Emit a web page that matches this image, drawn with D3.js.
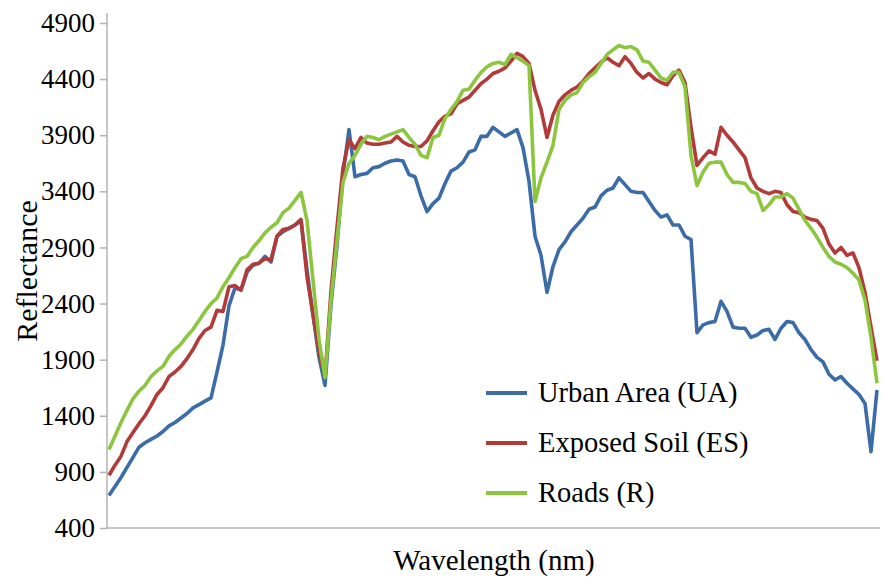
<!DOCTYPE html>
<html>
<head>
<meta charset="utf-8">
<script src="https://cdn.jsdelivr.net/npm/d3@7/dist/d3.min.js"></script>
<style>
  html, body { margin: 0; padding: 0; background: #ffffff; }
  svg { display: block; }
  text { font-family: "Liberation Serif", "Times New Roman", serif; fill: #000; }
</style>
</head>
<body>
<svg id="chart" width="882" height="583"></svg>
<script>
// ---- Data (x = band index) ----
const seriesNames = ["Urban Area (UA)", "Exposed Soil (ES)", "Roads (R)"];
const seriesColors = ["#3b6ca8", "#b23b3a", "#8cc63f"];

const urbanArea = [690,770,850,940,1030,1120,1160,1190,1220,1260,
  1310,1340,1380,1420,1470,1500,1530,1560,1790,2030,
  2380,2540,2520,2680,2740,2760,2820,2770,3000,3040,
  3070,3100,3140,2700,2300,1920,1670,2390,2920,3550,
  3950,3530,3550,3560,3610,3620,3650,3670,3680,3670,
  3550,3530,3360,3220,3290,3340,3470,3580,3610,3660,
  3750,3770,3890,3890,3970,3930,3890,3920,3950,3790,
  3490,3000,2830,2500,2730,2880,2950,3040,3100,3160,
  3240,3260,3360,3410,3430,3520,3460,3400,3390,3390,
  3310,3230,3170,3190,3100,3100,3000,2970,2140,2210,
  2230,2240,2420,2330,2190,2180,2180,2100,2120,2160,
  2170,2080,2180,2240,2230,2140,2080,1990,1920,1880,
  1770,1720,1750,1690,1640,1590,1510,1080,1630];

const exposedSoil = [870,960,1040,1170,1250,1330,1400,1490,1590,1650,
  1750,1790,1840,1910,1990,2090,2160,2190,2340,2330,
  2550,2560,2520,2700,2750,2760,2800,2790,3000,3060,
  3070,3100,3150,2640,2300,1970,1750,2510,3080,3610,
  3860,3780,3880,3830,3820,3820,3830,3840,3890,3840,
  3810,3800,3800,3850,3940,4020,4070,4090,4180,4210,
  4240,4300,4360,4400,4450,4470,4500,4560,4630,4600,
  4540,4300,4130,3880,4080,4200,4260,4300,4330,4380,
  4450,4500,4550,4590,4550,4520,4600,4540,4460,4410,
  4450,4400,4370,4350,4430,4480,4370,3970,3630,3700,
  3760,3730,3970,3900,3840,3770,3700,3520,3430,3400,
  3380,3400,3390,3280,3220,3210,3170,3150,3140,3070,
  2930,2850,2900,2830,2850,2720,2500,2190,1890];

const roads = [1100,1220,1340,1450,1550,1620,1670,1750,1800,1840,
  1930,1990,2040,2110,2170,2250,2330,2400,2450,2550,
  2630,2720,2800,2820,2900,2960,3030,3080,3120,3210,
  3250,3320,3390,3140,2610,2080,1740,2430,2960,3480,
  3650,3720,3820,3890,3880,3860,3890,3910,3930,3950,
  3880,3820,3720,3700,3880,3900,4050,4130,4200,4300,
  4310,4390,4460,4510,4540,4550,4530,4620,4590,4560,
  4520,3310,3520,3660,3810,4130,4210,4260,4280,4370,
  4420,4460,4540,4620,4660,4700,4680,4690,4660,4560,
  4550,4480,4410,4390,4460,4460,4330,3720,3450,3570,
  3650,3660,3660,3550,3480,3480,3470,3400,3380,3230,
  3280,3350,3350,3380,3340,3240,3140,3070,2990,2900,
  2820,2770,2750,2720,2670,2610,2430,2100,1690];

const yTicks = [400, 900, 1400, 1900, 2400, 2900, 3400, 3900, 4400, 4900];
const xTitle = "Wavelength (nm)";
const yTitle = "Reflectance";

// ---- Layout ----
const svg = d3.select("#chart");
const plot = { left: 107, right: 880, top: 23, bottom: 528, lineLeft: 109, lineRight: 877 };

const x = d3.scaleLinear().domain([0, urbanArea.length - 1]).range([plot.lineLeft, plot.lineRight]);
const y = d3.scaleLinear().domain([400, 4900]).range([plot.bottom, plot.top]);

const axisColor = "#b3b3b3";

// Y axis
const yAxis = d3.axisLeft(y).tickValues(yTicks).tickSize(7).tickPadding(5).tickFormat(d3.format("d"));
const gy = svg.append("g").attr("transform", `translate(${plot.left},0)`).call(yAxis);
gy.select(".domain").remove();
gy.selectAll(".tick line").attr("stroke", axisColor).attr("stroke-width", 1.5);
gy.selectAll(".tick text").attr("font-size", 27).attr("font-family", '"Liberation Serif", "Times New Roman", serif').attr("fill", "#000");
svg.append("line").attr("x1", plot.left).attr("x2", plot.left).attr("y1", 13).attr("y2", plot.bottom)
  .attr("stroke", axisColor).attr("stroke-width", 1.5);

// X axis (no ticks)
svg.append("line").attr("x1", plot.left).attr("x2", plot.right).attr("y1", plot.bottom).attr("y2", plot.bottom)
  .attr("stroke", axisColor).attr("stroke-width", 1.5);

// Titles
svg.append("text").attr("x", 494).attr("y", 570).attr("text-anchor", "middle").attr("font-size", 29).text(xTitle);
svg.append("text").attr("transform", "translate(37,271) rotate(-90)").attr("text-anchor", "middle").attr("font-size", 30).text(yTitle);

// Lines
const allSeries = [urbanArea, exposedSoil, roads];
const line = d3.line().x((d, i) => x(i)).y(d => y(d));
allSeries.forEach((s, k) => {
  svg.append("path").datum(s).attr("d", line).attr("fill", "none")
    .attr("stroke", seriesColors[k]).attr("stroke-width", 3.6).attr("stroke-linejoin", "round");
});

// Legend
const legendY = [393, 443, 493];
seriesNames.forEach((name, k) => {
  svg.append("line").attr("x1", 486).attr("x2", 527).attr("y1", legendY[k]).attr("y2", legendY[k])
    .attr("stroke", seriesColors[k]).attr("stroke-width", 4);
  svg.append("text").attr("x", 538).attr("y", legendY[k]).attr("dy", "0.33em").attr("font-size", 28.5).text(name);
});
</script>
</body>
</html>
